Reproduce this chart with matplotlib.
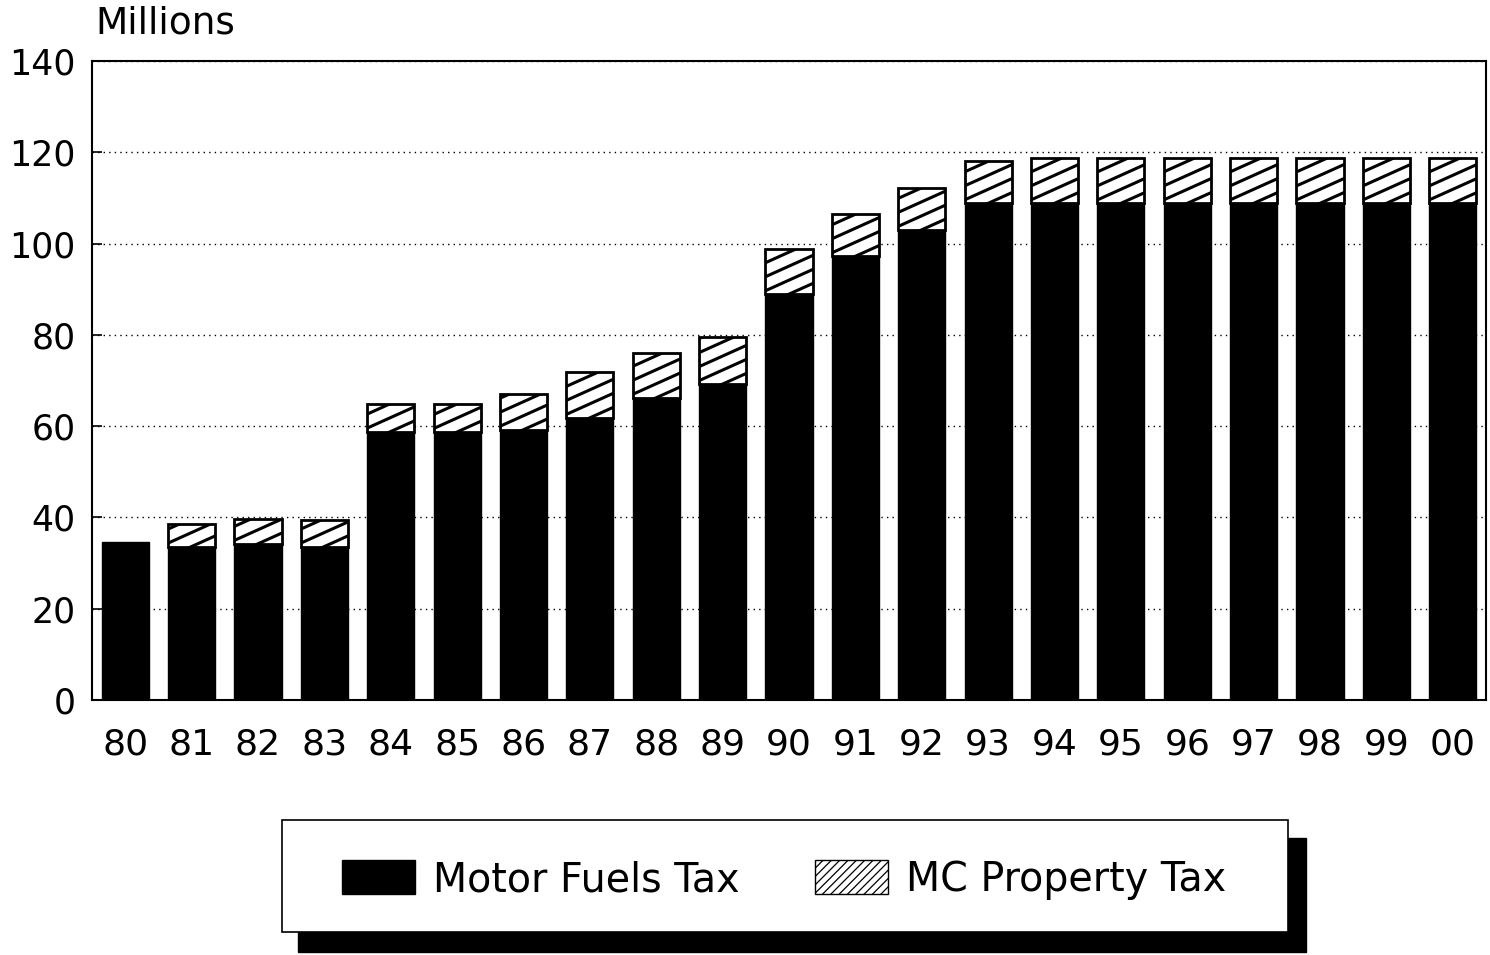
import numpy as np
import matplotlib
matplotlib.use("Agg")
import matplotlib.pyplot as plt
from matplotlib.patches import Rectangle, Patch
from matplotlib.lines import Line2D
from matplotlib.transforms import IdentityTransform

years = ["80", "81", "82", "83", "84", "85", "86", "87", "88", "89", "90",
         "91", "92", "93", "94", "95", "96", "97", "98", "99", "00"]
motor_fuels = [34.7, 33.6, 34.2, 33.6, 58.8, 58.7, 59.2, 61.8, 66.2, 69.2, 88.9,
               97.2, 103.0, 108.8, 108.8, 108.8, 108.8, 108.8, 108.8, 108.8, 108.8]
mc_property = [0.0, 5.0, 5.4, 5.8, 6.0, 6.2, 7.8, 10.0, 9.8, 10.3, 9.9,
               9.3, 9.1, 9.4, 9.9, 9.9, 9.9, 9.9, 9.9, 9.9, 9.9]
y_ticks = [0, 20, 40, 60, 80, 100, 120, 140]


def hatch_bar(ax, rect, slope=0.45, step=14, lw=2.2):
    # shallow diagonal hatch drawn in pixel space, clipped to the bar
    x0, y0 = ax.transData.transform((rect.get_x(), rect.get_y()))
    x1, y1 = ax.transData.transform((rect.get_x() + rect.get_width(),
                                     rect.get_y() + rect.get_height()))
    c = y0 - slope * (x1 - x0) - step * 0.3
    while c < y1 + step:
        ln = Line2D([x0 - 2, x1 + 2], [c, c + slope * (x1 - x0 + 4)],
                    transform=IdentityTransform(), color="black", lw=lw,
                    zorder=4)
        ax.add_line(ln)
        ln.set_clip_path(rect)
        c += step


fig = plt.figure(figsize=(14.9, 9.55), dpi=100)
ax = fig.add_axes([92 / 1490, 1 - 700 / 955, (1486 - 92) / 1490, (700 - 61) / 955])

x = np.arange(len(years))
ax.set_xlim(-0.5, len(years) - 0.5)
ax.set_ylim(0, 140)

ax.bar(x, motor_fuels, width=0.71, color="black", edgecolor="black", zorder=3)
tops = ax.bar(x, mc_property, width=0.71, bottom=motor_fuels, color="white",
              edgecolor="black", linewidth=2, zorder=3)
for rect, v in zip(tops, mc_property):
    if v > 0:
        hatch_bar(ax, rect)
    else:
        rect.set_visible(False)

ax.set_axisbelow(True)
ax.yaxis.grid(True, linestyle=(0, (1, 3)), color="black", linewidth=1)
ax.set_yticks(y_ticks)
ax.set_yticklabels([str(t) for t in y_ticks], fontsize=25)
ax.set_xticks(x)
ax.set_xticklabels(years, fontsize=26)
ax.tick_params(axis="y", direction="in", length=7, width=1.2, pad=12)
ax.tick_params(axis="x", length=0, pad=20)
for s in ax.spines.values():
    s.set_linewidth(1.5)

fig.text(95 / 1490, 1 - 24 / 955, "Millions", fontsize=27, va="center", ha="left")

# legend box with a solid drop shadow
fig.patches.append(Rectangle((298 / 1490, 1 - 952 / 955), 1008 / 1490, 114 / 955,
                             transform=fig.transFigure, facecolor="black",
                             edgecolor="black", zorder=1))
fig.patches.append(Rectangle((282 / 1490, 1 - 932 / 955), 1006 / 1490, 112 / 955,
                             transform=fig.transFigure, facecolor="white",
                             edgecolor="black", linewidth=1.2, zorder=2))
handles = [Patch(facecolor="black", edgecolor="black", label="Motor Fuels Tax"),
           Patch(facecolor="white", edgecolor="black", hatch="////", label="MC Property Tax")]
matplotlib.rcParams["hatch.linewidth"] = 0.9
leg = fig.legend(handles=handles, loc="center", ncol=2, frameon=False,
                 bbox_to_anchor=(784 / 1490, 1 - 880 / 955), fontsize=28.5,
                 handlelength=1.85, handleheight=0.95, handletextpad=0.45,
                 columnspacing=1.9)
leg.set_zorder(5)

fig.savefig("out.png", dpi=100)
